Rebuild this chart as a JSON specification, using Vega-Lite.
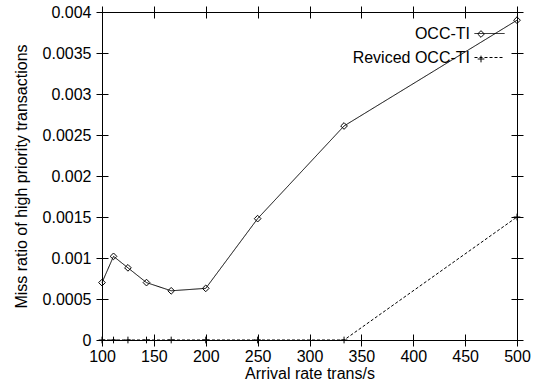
{
  "$schema": "https://vega.github.io/schema/vega-lite/v6.json",
  "width": 415,
  "height": 328,
  "autosize": "none",
  "padding": {"left": 102, "top": 12, "right": 25, "bottom": 43},
  "background": "white",
  "config": {
    "view": {"stroke": "black", "strokeWidth": 1, "fill": "transparent"},
    "font": "Liberation Sans",
    "axis": {
      "grid": false, "domain": false, "ticks": true, "tickColor": "black", "tickSize": 12, "tickWidth": 1, "offset": -6, "zindex": 1,
      "labelFlush": false, "labelOverlap": false,
      "labelColor": "black", "labelFontSize": 16, "labelFont": "Liberation Sans",
      "titleFont": "Liberation Sans", "titleFontWeight": "normal", "titleFontSize": 16, "titleColor": "black"
    },
    "legend": {
      "orient": "none", "title": null, "padding": 0, "rowPadding": 0,
      "labelFontSize": 16, "labelFont": "Liberation Sans", "labelColor": "black"
    }
  },
  "data": {
    "values": [
      {"rate": 100, "ratio": 0.0007, "series": "OCC-TI", "marker": "OCC-TI"},
      {"rate": 111.1, "ratio": 0.00102, "series": "OCC-TI", "marker": "OCC-TI"},
      {"rate": 125, "ratio": 0.00088, "series": "OCC-TI", "marker": "OCC-TI"},
      {"rate": 142.9, "ratio": 0.0007, "series": "OCC-TI", "marker": "OCC-TI"},
      {"rate": 166.7, "ratio": 0.0006, "series": "OCC-TI", "marker": "OCC-TI"},
      {"rate": 200, "ratio": 0.00063, "series": "OCC-TI", "marker": "OCC-TI"},
      {"rate": 250, "ratio": 0.00148, "series": "OCC-TI", "marker": "OCC-TI"},
      {"rate": 333.3, "ratio": 0.00261, "series": "OCC-TI", "marker": "OCC-TI"},
      {"rate": 500, "ratio": 0.0039, "series": "OCC-TI", "marker": "OCC-TI"},
      {"rate": 100, "ratio": 0, "series": "Reviced OCC-TI", "marker": "Reviced OCC-TI"},
      {"rate": 111.1, "ratio": 0, "series": "Reviced OCC-TI", "marker": "Reviced OCC-TI"},
      {"rate": 125, "ratio": 0, "series": "Reviced OCC-TI", "marker": "Reviced OCC-TI"},
      {"rate": 142.9, "ratio": 0, "series": "Reviced OCC-TI", "marker": "Reviced OCC-TI"},
      {"rate": 166.7, "ratio": 0, "series": "Reviced OCC-TI", "marker": "Reviced OCC-TI"},
      {"rate": 200, "ratio": 0, "series": "Reviced OCC-TI", "marker": "Reviced OCC-TI"},
      {"rate": 250, "ratio": 0, "series": "Reviced OCC-TI", "marker": "Reviced OCC-TI"},
      {"rate": 333.3, "ratio": 0, "series": "Reviced OCC-TI", "marker": "Reviced OCC-TI"},
      {"rate": 500, "ratio": 0.0015, "series": "Reviced OCC-TI", "marker": "Reviced OCC-TI"}
    ]
  },
  "layer": [
    {
      "mark": {"type": "line", "color": "black", "strokeWidth": 1},
      "encoding": {
        "x": {"field": "rate", "type": "quantitative", "scale": {"domain": [100, 500], "nice": false},
          "axis": {"orient": "bottom", "values": [100, 150, 200, 250, 300, 350, 400, 450, 500], "title": "Arrival rate trans/s", "labelPadding": 2, "titlePadding": 1}},
        "y": {"field": "ratio", "type": "quantitative", "scale": {"domain": [0, 0.004], "nice": false},
          "axis": {"values": [0, 0.0005, 0.001, 0.0015, 0.002, 0.0025, 0.003, 0.0035, 0.004], "format": "~f", "title": "Miss ratio of high priority transactions", "labelPadding": 5, "titlePadding": 13}},
        "strokeDash": {"field": "series", "type": "nominal",
          "scale": {"domain": ["OCC-TI", "Reviced OCC-TI"], "range": [[1, 0], [3, 2]]},
          "legend": {
            "legendX": 372, "legendY": 6,
            "symbolType": "stroke", "symbolSize": 900, "symbolStrokeColor": "black", "symbolStrokeWidth": 1,
            "labelAlign": "right", "labelOffset": -35
          }}
      }
    },
    {
      "mark": {"type": "point", "filled": false, "color": "black", "strokeWidth": 1, "size": 45, "opacity": 1},
      "encoding": {
        "x": {"field": "rate", "type": "quantitative",
          "axis": {"orient": "top", "labels": false, "title": null, "values": [100, 150, 200, 250, 300, 350, 400, 450, 500]}},
        "y": {"field": "ratio", "type": "quantitative",
          "axis": {"orient": "right", "labels": false, "title": null, "values": [0, 0.0005, 0.001, 0.0015, 0.002, 0.0025, 0.003, 0.0035, 0.004]}},
        "shape": {"field": "marker", "type": "nominal",
          "scale": {"range": ["diamond", "M-1,0H1M0,-1V1"]},
          "legend": {
            "legendX": 371, "legendY": 14, "rowPadding": 9,
            "symbolSize": 45, "symbolStrokeColor": "black", "symbolStrokeWidth": 1, "symbolFillColor": "white",
            "labelExpr": "''"
          }}
      }
    }
  ],
  "resolve": {"axis": {"x": "independent", "y": "independent"}}
}
